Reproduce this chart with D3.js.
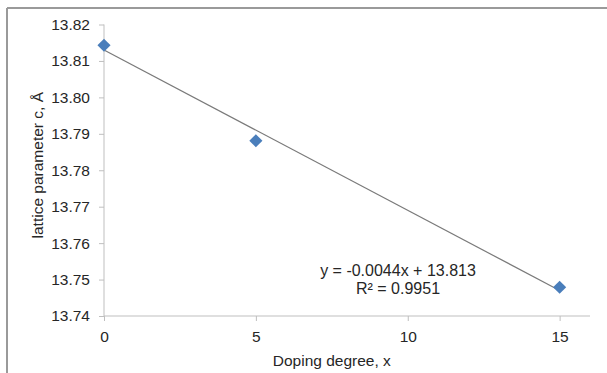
<!DOCTYPE html>
<html>
<head>
<meta charset="utf-8">
<script src="https://cdn.jsdelivr.net/npm/d3@7"></script>
<style>
  body { margin: 0; background: #fff; }
  text { font-family: "Liberation Sans", Arial, sans-serif; fill: #262626; }
</style>
</head>
<body>
<svg id="chart" width="607" height="373"></svg>
<script>
const doping = [0, 5, 15];
const latticeC = [13.8143, 13.7881, 13.7479];
const xTicks = [0, 5, 10, 15];
const yTicks = [13.74, 13.75, 13.76, 13.77, 13.78, 13.79, 13.80, 13.81, 13.82];
const trendSlope = -0.0044;
const trendIntercept = 13.813;
const equationLines = ['y = -0.0044x + 13.813', 'R² = 0.9951'];

const svg = d3.select('#chart');

// outer frame (top and left edges only visible)
svg.append('line').attr('x1', 7).attr('x2', 607).attr('y1', 8).attr('y2', 8)
	.attr('stroke', '#9a9a9a').attr('stroke-width', 2);
svg.append('line').attr('x1', 7).attr('x2', 7).attr('y1', 8).attr('y2', 373)
	.attr('stroke', '#9a9a9a').attr('stroke-width', 2);

const x = d3.scaleLinear().domain([0, 16]).range([104, 590]);
const y = d3.scaleLinear().domain([13.74, 13.82]).range([316, 24.5]);

// y axis
const yAxis = svg.append('g')
	.attr('transform', `translate(${x(0)},0)`)
	.call(d3.axisLeft(y).tickValues(yTicks).tickFormat(d3.format('.2f')).tickSize(5).tickPadding(9));
yAxis.select('.domain').attr('stroke', '#bfbfbf').attr('d', `M0,${y(13.82)}V${y(13.74)}`);
yAxis.selectAll('.tick line').attr('stroke', '#bfbfbf');
yAxis.selectAll('.tick text').attr('font-size', 15.5).attr('fill', '#262626')
	.attr('font-family', '"Liberation Sans", Arial, sans-serif');

// x axis
const xAxis = svg.append('g')
	.attr('transform', `translate(0,${y(13.74)})`)
	.call(d3.axisBottom(x).tickValues(xTicks).tickFormat(d3.format('d')).tickSize(5).tickPadding(10));
xAxis.select('.domain').attr('stroke', '#bfbfbf').attr('d', `M${x(0)},0H${x(16)}`);
xAxis.selectAll('.tick line').attr('stroke', '#bfbfbf');
xAxis.selectAll('.tick text').attr('font-size', 15.5).attr('fill', '#262626')
	.attr('font-family', '"Liberation Sans", Arial, sans-serif');

// trend line
const trendX = [d3.min(doping), d3.max(doping)];
svg.append('path')
	.datum(trendX)
	.attr('fill', 'none')
	.attr('stroke', '#7a7a7a')
	.attr('stroke-width', 1.2)
	.attr('d', d3.line()
		.x(d => x(d))
		.y(d => y(trendSlope * d + trendIntercept)));

// markers
const diamond = d3.symbol().type(d3.symbolDiamond2).size(110);
svg.append('g')
	.selectAll('path')
	.data(doping)
	.enter()
	.append('path')
	.attr('d', diamond)
	.attr('transform', (d, i) => `translate(${x(d)},${y(latticeC[i])})`)
	.attr('fill', '#4a7ebb');

// equation
svg.append('g')
	.selectAll('text')
	.data(equationLines)
	.enter()
	.append('text')
	.attr('x', 398)
	.attr('y', (d, i) => 276 + i * 18)
	.attr('text-anchor', 'middle')
	.attr('font-size', 16)
	.text(d => d);

// axis titles
svg.append('text')
	.attr('x', x(7.5))
	.attr('y', 366)
	.attr('text-anchor', 'middle')
	.attr('font-size', 15.5)
	.text('Doping degree, x');

svg.append('text')
	.attr('transform', `translate(43,${y(13.78) - 5}) rotate(-90)`)
	.attr('text-anchor', 'middle')
	.attr('font-size', 15.5)
	.text('lattice parameter c, Å');
</script>
</body>
</html>
